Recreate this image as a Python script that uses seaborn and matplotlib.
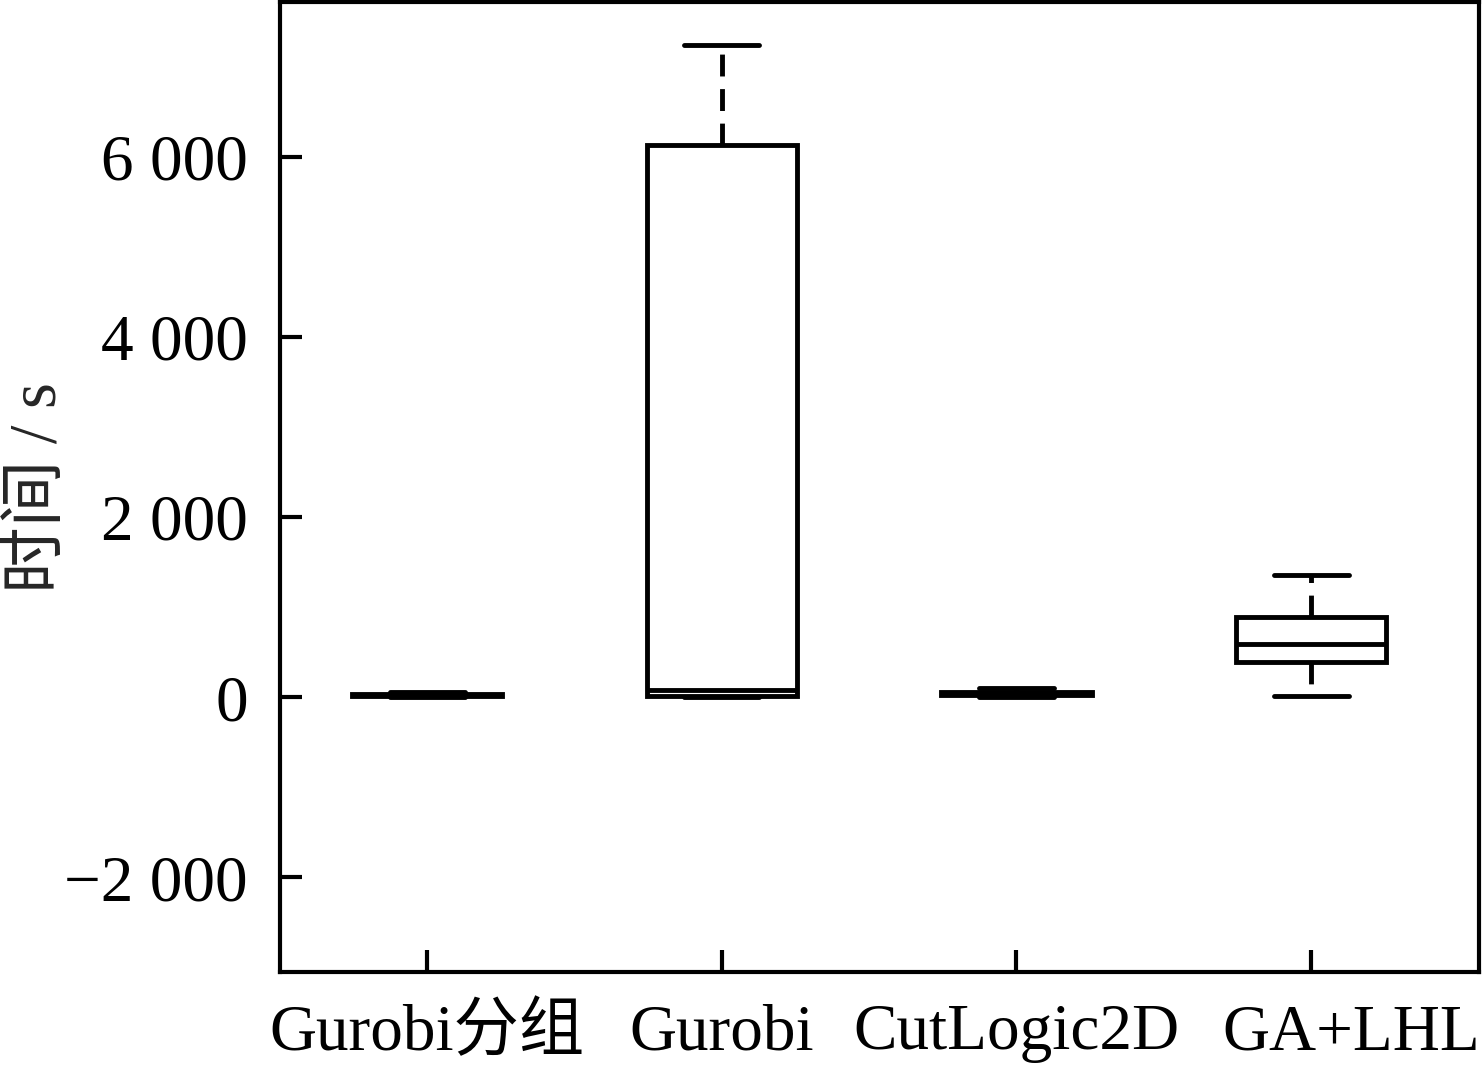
import numpy as np
import pandas as pd
import matplotlib
matplotlib.use("Agg")
import matplotlib.pyplot as plt
import matplotlib.transforms as mtransforms
import seaborn as sns

# ============================
# DADOS (mín, Q1, mediana, Q3, máx)
# ============================
metodos = ["Gurobi分组", "Gurobi", "CutLogic2D", "GA+LHL"]
tempo_gurobi_grupo = [5, 12, 22, 38, 55]
tempo_gurobi = [5, 10, 80, 6130, 7240]
tempo_cutlogic = [0, 30, 50, 65, 100]
tempo_ga_lhl = [10, 390, 590, 890, 1355]

yticks = [-2000, 0, 2000, 4000, 6000]
ytick_labels = ["\u22122 000", "0", "2 000", "4 000", "6 000"]

df = pd.DataFrame({
    "Metodo": np.repeat(metodos, 5),
    "Tempo": tempo_gurobi_grupo + tempo_gurobi + tempo_cutlogic + tempo_ga_lhl,
})

# ============================
# ESTILO
# ============================
sns.set_style("ticks")
plt.rcParams["font.family"] = ["Liberation Serif", "Noto Sans CJK SC"]
plt.rcParams["axes.linewidth"] = 3.0

fig = plt.figure(figsize=(14.83, 10.65), dpi=100)
ax = fig.add_axes([0.1888, 0.0873, 0.8085, 0.9107])

lw = 3.5
sns.boxplot(
    data=df, x="Metodo", y="Tempo", ax=ax,
    color="white", linecolor="black", linewidth=lw,
    width=0.51, whis=np.inf, showfliers=False,
    whiskerprops={"linestyle": (0, (4.5, 2.6))},
)

ax.set_xlim(-0.5, 3.57)
ax.set_ylim(-3050, 7720)
ax.set_yticks(yticks)
ax.set_yticklabels(ytick_labels)
ax.set_xlabel("")
ax.set_ylabel("时间 / s", fontsize=48)
ax.yaxis.set_label_coords(-0.175, 0.5)

ax.tick_params(axis="both", direction="in", length=16, width=3,
               labelsize=47, colors="black")
ax.tick_params(axis="x", pad=23)
ax.tick_params(axis="y", pad=23)
for s in ax.spines.values():
    s.set_visible(True)
    s.set_color("black")

# último rótulo deslocado para a direita, como no original
ultimo = ax.get_xticklabels()[-1]
ultimo.set_transform(ultimo.get_transform()
                     + mtransforms.ScaledTranslation(0.40, 0, fig.dpi_scale_trans))

fig.savefig("out.png", dpi=100)
